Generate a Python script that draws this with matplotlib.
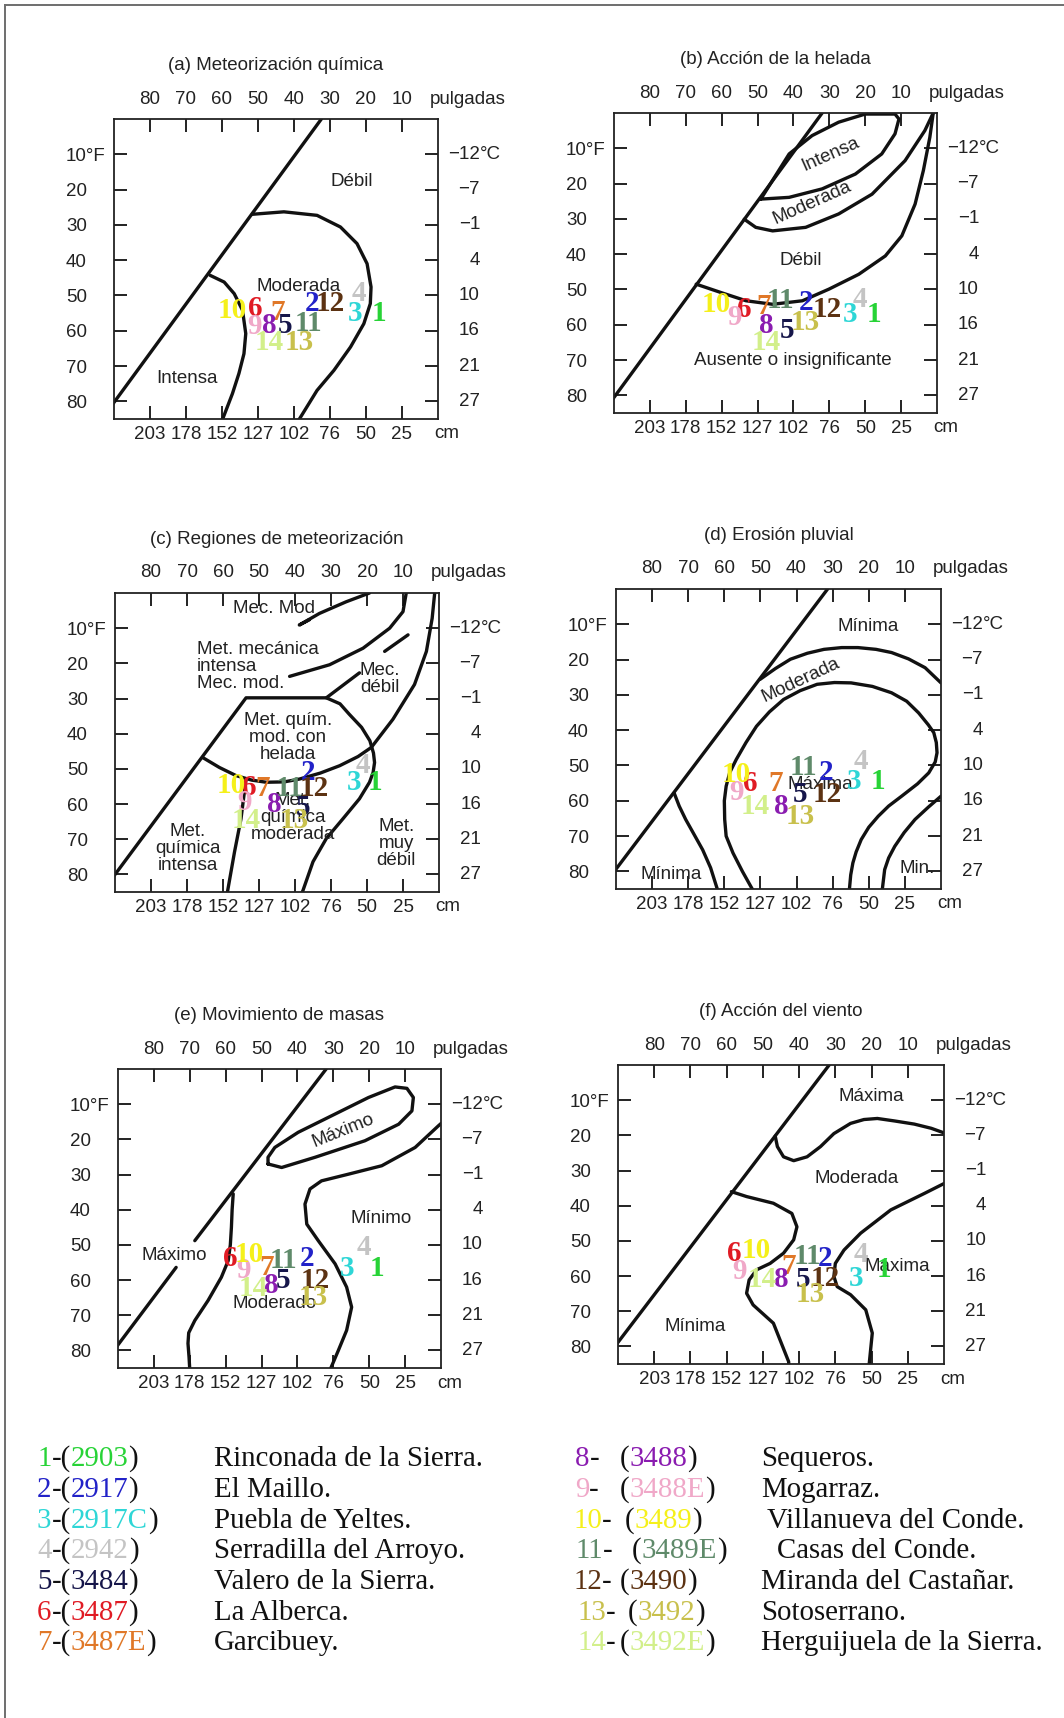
import matplotlib
matplotlib.use("Agg")
import matplotlib.pyplot as plt
import matplotlib.transforms as mtransforms
from matplotlib.lines import Line2D

W, H = 1064, 1718

# =========================
# STATIONS
# =========================
station_ids = ["1", "2", "3", "4", "5", "6", "7", "8", "9", "10", "11", "12", "13", "14"]
station_codes = ["2903", "2917", "2917C", "2942", "3484", "3487", "3487E",
                 "3488", "3488E", "3489", "3489E", "3490", "3492", "3492E"]
station_names = ["Rinconada de la Sierra.", "El Maillo.", "Puebla de Yeltes.",
                 "Serradilla del Arroyo.", "Valero de la Sierra.", "La Alberca.",
                 "Garcibuey.", "Sequeros.", "Mogarraz.", "Villanueva del Conde.",
                 "Casas del Conde.", "Miranda del Castañar.", "Sotoserrano.",
                 "Herguijuela de la Sierra."]
station_colors = ["#27d336", "#2222c8", "#2ed6d6", "#c4c4c4", "#16164a", "#e01b24",
                  "#e07828", "#8a1cb0", "#f0a8c8", "#f5f01a", "#5f8a6a", "#5c3212",
                  "#c8c04c", "#d2ef8a"]

# station positions (precip in, temp F) per panel, order 1..14
pos_a = [(16.5, 55.1), (34.9, 52.3), (22.9, 55.1), (22.0, 49.5), (42.5, 58.4), (50.9, 53.7),
         (44.6, 54.7), (46.9, 58.4), (51.1, 58.9), (57.1, 54.2), (35.9, 58.0), (30.0, 52.3),
         (38.6, 63.2), (46.9, 63.2)]
pos_b = [(17.7, 57.0), (36.6, 53.7), (24.1, 57.0), (21.4, 52.8), (41.7, 61.7), (53.7, 55.6),
         (48.4, 54.7), (47.5, 60.3), (56.5, 58.0), (61.5, 54.2), (43.5, 53.2), (30.6, 55.6),
         (36.6, 59.4), (47.7, 65.1)]
pos_c = [(17.9, 53.8), (36.4, 51.0), (23.5, 53.8), (21.1, 49.1), (37.8, 60.9), (52.7, 55.2),
         (49.0, 55.7), (45.7, 60.0), (54.0, 59.5), (57.8, 54.8), (41.5, 55.7), (34.6, 55.7),
         (40.1, 64.7), (53.6, 64.7)]
pos_d = [(17.4, 54.5), (31.9, 52.1), (24.0, 54.5), (22.1, 48.8), (38.9, 58.2), (52.9, 55.0),
         (45.9, 55.0), (44.1, 61.6), (56.7, 57.8), (56.7, 52.6), (38.0, 50.7), (31.4, 58.2),
         (38.9, 64.4), (51.5, 61.6)]
pos_e = [(17.9, 56.8), (37.4, 54.0), (26.3, 56.8), (21.6, 50.7), (44.0, 60.1), (58.6, 54.0),
         (48.6, 56.4), (47.2, 61.6), (55.1, 57.3), (53.3, 52.6), (44.0, 54.5), (35.1, 60.1),
         (35.6, 64.9), (52.3, 62.5)]
pos_f = [(16.5, 58.2), (32.7, 54.9), (24.4, 60.6), (23.0, 54.0), (38.8, 61.1), (57.8, 53.5),
         (42.9, 57.3), (44.8, 61.1), (56.4, 58.7), (51.7, 52.6), (37.8, 54.5), (32.7, 60.6),
         (36.9, 65.3), (50.3, 61.1)]

# =========================
# AXES TICKS
# =========================
precip_ticks = [80, 70, 60, 50, 40, 30, 20, 10]
precip_in_labels = ["80", "70", "60", "50", "40", "30", "20", "10"]
precip_cm_labels = ["203", "178", "152", "127", "102", "76", "50", "25"]
temp_ticks = [10, 20, 30, 40, 50, 60, 70, 80]
temp_f_labels = ["10°F", "20", "30", "40", "50", "60", "70", "80"]
temp_c_labels = ["\u221212", "\u22127", "\u22121", "4", "10", "16", "21", "27"]

# =========================
# BOUNDARY CURVES (precip in, temp F)
# =========================
curves_a = [
    [(90.5, 81.0), (32.4, 0.0)],
    [(51.6, 27.0), (42.8, 26.3), (33.6, 27.3), (27.1, 30.6), (22.5, 35.3), (19.7, 41.0),
     (18.6, 47.6), (18.8, 52.3), (20.6, 58.0), (24.3, 64.6), (28.9, 71.2), (33.6, 76.9),
     (38.8, 85.5)],
    [(63.3, 44.3), (59.4, 46.2), (56.6, 49.5), (54.3, 54.2), (53.4, 60.8), (53.9, 66.5),
     (55.3, 72.1), (57.1, 77.8), (60.0, 85.5)],
]
curves_b = [
    [(90.3, 81.0), (32.0, 0.0)],
    [(49.1, 24.4), (41.2, 23.9), (32.0, 21.5), (22.75, 17.3), (15.4, 11.6), (11.7, 5.9),
     (10.6, 1.7), (11.7, 0.3), (20.0, 0.3), (27.4, 2.6), (34.8, 6.4), (41.2, 11.6), (49.1, 24.4)],
    [(53.7, 30.1), (50.5, 32.4), (45.8, 33.4), (36.6, 32.4), (27.4, 28.6), (18.1, 23.0),
     (8.9, 13.5), (3.4, 5.0), (1.05, 0.0)],
    [(1.05, 0.0), (2.0, 6.9), (3.8, 16.3), (6.1, 25.8), (9.8, 34.8), (14.4, 40.5), (21.8, 45.7),
     (30.1, 49.9), (37.5, 53.2), (45.8, 54.2), (53.2, 53.2), (60.1, 50.9), (67.1, 48.5)],
]
curves_c = [
    [(90.7, 81.0), (53.6, 29.8), (31.3, 29.8), (22.1, 22.7)],
    [(31.3, 29.8), (27.5, 31.5), (24.9, 34.5), (21.5, 38.2), (19.2, 42.0), (18.2, 45.5),
     (17.9, 48.2), (18.3, 51.0), (19.3, 53.8), (22.1, 58.5), (26.7, 64.2), (31.3, 69.8),
     (35.0, 76.4), (37.8, 84.6), (38.2, 85.5)],
    [(65.6, 46.8), (61.0, 49.6), (56.4, 51.9), (52.0, 53.2), (48.0, 53.8), (43.0, 53.7),
     (38.8, 52.9), (33.0, 51.2), (27.6, 49.1), (22.5, 46.5), (18.8, 43.9)],
    [(53.6, 52.8), (55.0, 64.2), (56.8, 73.6), (58.7, 84.6), (58.8, 85.5)],
    [(1.2, 0.0), (1.9, 7.2), (3.5, 16.6), (6.8, 26.0), (12.8, 35.9), (18.8, 43.9)],
    [(19.3, 0.0), (25.8, 2.5), (33.2, 5.8), (38.8, 9.1), (36.0, 7.6)],
    [(9.1, 0.0), (10.0, 5.3), (13.7, 10.0), (21.1, 15.7), (30.4, 20.4), (41.5, 23.7)],
    [(15.1, 16.6), (8.6, 11.9)],
]
curves_d = [
    [(91.2, 81.0), (31.4, 0.0)],
    [(50.1, 25.6), (45.8, 22.5), (41.7, 19.9), (37.0, 18.2), (32.4, 17.1), (27.5, 16.6),
     (23.0, 16.6), (18.0, 17.1), (13.7, 18.0), (9.0, 19.8), (4.4, 22.3), (0.0, 26.6)],
    [(52.0, 85.5), (55.0, 80.0), (57.6, 74.8), (59.5, 70.0), (59.9, 65.3), (60.0, 60.0),
     (59.5, 55.9), (58.5, 52.0), (56.7, 48.3), (54.0, 43.5), (51.1, 38.9), (47.5, 34.8),
     (43.6, 31.3), (39.0, 28.8), (34.3, 27.0), (29.5, 26.5), (24.9, 26.6), (19.0, 27.6),
     (13.7, 29.4), (9.5, 31.8), (6.2, 35.1), (3.5, 38.5), (2.0, 40.7), (1.3, 43.5),
     (1.1, 46.4), (1.6, 49.0), (3.4, 52.1), (6.5, 55.2), (10.9, 58.7), (14.5, 61.5),
     (17.4, 64.4), (20.0, 67.5), (22.1, 71.0), (23.5, 74.5), (24.4, 77.6), (25.0, 81.0),
     (25.4, 85.5)],
    [(0.0, 58.7), (3.5, 61.8), (7.2, 65.3), (10.2, 69.0), (12.8, 72.9), (14.5, 76.2),
     (15.6, 79.5), (16.3, 85.5)],
    [(73.9, 57.8), (72.5, 61.5), (70.7, 65.3), (68.4, 69.5), (66.0, 73.9), (63.8, 79.0),
     (61.8, 85.5)],
]
curves_e = [
    [(91.9, 81.0), (73.8, 56.4)],
    [(68.6, 48.8), (32.0, 0.0)],
    [(57.9, 35.5), (58.2, 40.0), (58.4, 45.0), (58.7, 50.0), (59.3, 54.5), (61.2, 59.2),
     (64.9, 65.8), (68.6, 71.5), (70.3, 75.0), (70.5, 78.0), (70.2, 82.0), (70.0, 85.5)],
    [(0.0, 15.5), (0.67, 16.1), (7.2, 22.3), (16.5, 27.5), (25.8, 29.9), (33.3, 31.8),
     (36.5, 34.1), (37.9, 38.4), (37.4, 44.1), (34.2, 48.8), (29.5, 55.4), (26.3, 62.0),
     (24.9, 67.7), (26.3, 74.3), (28.6, 80.0), (30.9, 85.5)],
    [(48.2, 27.0), (44.4, 28.0), (35.1, 25.1), (21.2, 20.4), (11.8, 15.7), (8.1, 11.9),
     (7.7, 8.1), (9.5, 5.5), (12.8, 5.1), (20.2, 8.1), (29.5, 12.8), (39.8, 18.0),
     (46.3, 22.3), (48.2, 25.1), (48.2, 27.0)],
]
curves_f = [
    [(91.6, 81.0), (31.7, 0.0)],
    [(46.6, 20.2), (46.0, 23.2), (44.3, 26.1), (41.5, 27.2), (37.8, 26.1), (34.1, 23.2),
     (30.4, 19.5), (25.8, 16.6), (22.1, 15.5), (18.4, 15.2), (13.7, 15.9), (8.2, 16.8),
     (3.5, 18.0), (0.0, 19.3)],
    [(58.7, 36.0), (54.5, 37.4), (47.1, 39.3), (42.0, 42.2), (40.6, 46.0), (41.5, 49.7),
     (44.3, 53.5), (48.0, 56.4), (51.7, 58.2), (53.8, 61.1), (54.5, 64.9), (52.7, 68.2),
     (47.1, 73.4), (42.9, 84.3), (42.8, 85.5)],
    [(0.0, 33.7), (5.4, 36.5), (14.7, 41.2), (23.0, 47.8), (27.6, 52.6), (30.0, 56.4),
     (30.4, 60.1), (29.5, 63.0), (25.8, 65.3), (21.6, 69.6), (19.8, 76.2), (20.7, 85.5)],
]

# =========================
# REGION LABELS (text, x, y, rotation, alignment)
# =========================
labels_a = [("Débil", 24.0, 17.8, 0, "center"), ("Moderada", 38.7, 47.4, 0, "center"),
            ("Intensa", 69.7, 73.6, 0, "center")]
labels_b = [("Intensa", 29.7, 11.6, 24, "center"), ("Moderada", 34.8, 25.3, 24, "center"),
            ("Débil", 38.0, 41.9, 0, "center"),
            ("Ausente o insignificante", 40.3, 70.0, 0, "center")]
labels_c = [("Mec. Mod", 45.7, 4.3, 0, "center"),
            ("Met. mecánica\nintensa\nMec. mod.", 50.3, 20.8, 0, "left"),
            ("Mec.\ndébil", 16.5, 24.4, 0, "center"),
            ("Met. quím.\nmod. con\nhelada", 42.0, 41.1, 0, "center"),
            ("Met.\nquímica\nintensa", 69.8, 72.5, 0, "center"),
            ("Met.\nquímica\nmoderada", 40.6, 63.7, 0, "center"),
            ("Met.\nmuy\ndébil", 11.9, 71.3, 0, "center")]
labels_d = [("Mínima", 20.1, 10.7, 0, "center"), ("Moderada", 38.7, 25.8, 25, "center"),
            ("Máxima", 33.5, 55.4, 0, "center"), ("Mínima", 74.6, 81.0, 0, "center"),
            ("Min.", 6.7, 79.3, 0, "center")]
labels_e = [("Máximo", 27.2, 17.6, 22, "center"), ("Mínimo", 16.8, 42.6, 0, "center"),
            ("Máximo", 74.2, 53.0, 0, "center"), ("Moderado", 46.3, 66.8, 0, "center")]
labels_f = [("Máxima", 20.2, 9.05, 0, "center"), ("Moderada", 24.1, 32.4, 0, "center"),
            ("Máxima", 13.0, 57.3, 0, "center"), ("Mínima", 68.6, 74.3, 0, "center")]

titles = ["(a) Meteorización química", "(b) Acción de la helada",
          "(c) Regiones de meteorización", "(d) Erosión pluvial",
          "(e) Movimiento de masas", "(f) Acción del viento"]

# =========================
# LAYOUT (pixel boxes: left, top, right, bottom)
# =========================
boxes = [(114, 119, 438, 419), (614, 113, 937, 413),
         (115, 593, 439, 892), (616, 589, 941, 889),
         (118, 1069, 441, 1368), (618, 1065, 944, 1364)]

SANS = "Liberation Sans"
SERIF = "Liberation Serif"
INK = "#222222"
FS = 13.5

fig = plt.figure(figsize=(W / 100, H / 100), dpi=100)
fig.patch.set_facecolor("white")

# page frame (top and left edges)
fig.add_artist(Line2D([5 / W, 1], [1 - 5 / H, 1 - 5 / H], transform=fig.transFigure,
                      color="#6e6e6e", lw=1.4))
fig.add_artist(Line2D([5 / W, 5 / W], [0, 1 - 5 / H], transform=fig.transFigure,
                      color="#6e6e6e", lw=1.4))


def draw_panel(box, title, curves, labels, positions):
    l, t, r, b = box
    ax = fig.add_axes([l / W, 1 - b / H, (r - l) / W, (b - t) / H])
    ax.set_xlim(90, 0)
    ax.set_ylim(85, 0)
    for sp in ax.spines.values():
        sp.set_linewidth(1.3)
        sp.set_color("#222222")

    # curves
    for c in curves:
        xs = [p[0] for p in c]
        ys = [p[1] for p in c]
        ax.plot(xs, ys, color="#111111", lw=2.4, solid_capstyle="round",
                solid_joinstyle="round", zorder=2)

    # ticks
    ax.set_xticks(precip_ticks)
    ax.set_xticklabels(precip_cm_labels, fontsize=FS, family=SANS, color=INK)
    ax.set_yticks(temp_ticks)
    ax.set_yticklabels(temp_f_labels, fontsize=FS, family=SANS, color=INK, ha="left")
    ax.tick_params(direction="in", length=9.5, width=1.4, top=True, right=True,
                   color="#222222")
    ax.tick_params(axis="y", pad=34.5)
    ax.tick_params(axis="x", pad=5)

    top_tr = mtransforms.offset_copy(ax.get_xaxis_transform(), fig=fig, y=20, units="dots")
    for tk, lab in zip(precip_ticks, precip_in_labels):
        ax.text(tk, 1, lab, transform=top_tr, ha="center", va="center",
                fontsize=FS, family=SANS, color=INK)
    ax.text(1, 1, "pulgadas", ha="left", va="center", fontsize=FS, family=SANS, color=INK,
            transform=mtransforms.offset_copy(ax.transAxes, fig=fig, x=-8, y=20, units="dots"))
    ax.text(1, 0, "cm", ha="left", va="center", fontsize=FS, family=SANS, color=INK,
            transform=mtransforms.offset_copy(ax.transAxes, fig=fig, x=-4, y=-15, units="dots"))

    right_tr = mtransforms.offset_copy(ax.get_yaxis_transform(), fig=fig, x=42, units="dots")
    for tk, lab in zip(temp_ticks, temp_c_labels):
        ax.text(1, tk, lab, transform=right_tr, ha="right", va="center",
                fontsize=FS, family=SANS, color=INK)
    ax.text(1, temp_ticks[0], "°C", transform=right_tr, ha="left", va="center",
            fontsize=FS, family=SANS, color=INK)

    # title
    ax.text(0.5, 1, title, ha="center", va="center", fontsize=FS, family=SANS, color=INK,
            transform=mtransforms.offset_copy(ax.transAxes, fig=fig, y=53, units="dots"))

    # region labels
    for txt, x, y, rot, al in labels:
        ax.text(x, y, txt, ha="center", va="center", rotation=rot, multialignment=al,
                fontsize=FS, family=SANS, color=INK, linespacing=1.0, zorder=3,
                rotation_mode="anchor")

    # stations
    for sid, col, (x, y) in zip(station_ids, station_colors, positions):
        ax.text(x, y, sid, ha="center", va="center", color=col, fontsize=21,
                fontweight="bold", family=SERIF, zorder=4)
    return ax


all_curves = [curves_a, curves_b, curves_c, curves_d, curves_e, curves_f]
all_labels = [labels_a, labels_b, labels_c, labels_d, labels_e, labels_f]
all_pos = [pos_a, pos_b, pos_c, pos_d, pos_e, pos_f]
for box, title, cv, lb, ps in zip(boxes, titles, all_curves, all_labels, all_pos):
    draw_panel(box, title, cv, lb, ps)

# =========================
# LEGEND (bottom)
# =========================
renderer = fig.canvas.get_renderer()
LEG_FS = 20.8


def put_parts(x, y, parts):
    # x, y in pixels from the top-left corner, y is the text baseline
    for txt, col in parts:
        t = fig.text(x / W, 1 - y / H, txt, color=col, fontsize=LEG_FS, family=SERIF,
                     ha="left", va="baseline")
        x = t.get_window_extent(renderer).x1


rows_y = [1466, 1497, 1528, 1558, 1589, 1620, 1650]
right_num_x = [575, 575, 573, 575, 573, 577, 577]
right_par_x = [620, 620, 625, 632, 620, 628, 620]
right_name_x = [761, 761, 767, 777, 761, 761, 761]

for i in range(7):
    y = rows_y[i]
    put_parts(37, y, [(station_ids[i], station_colors[i]), ("-(", "#111111"),
                      (station_codes[i], station_colors[i]), (")", "#111111")])
    put_parts(214, y, [(station_names[i], "#111111")])

for k in range(7):
    i = k + 7
    y = rows_y[k]
    put_parts(right_num_x[k], y, [(station_ids[i], station_colors[i]), ("-", "#111111")])
    put_parts(right_par_x[k], y, [("(", "#111111"), (station_codes[i], station_colors[i]),
                                  (")", "#111111")])
    put_parts(right_name_x[k], y, [(station_names[i], "#111111")])

fig.savefig("out.png", dpi=100, facecolor="white")
